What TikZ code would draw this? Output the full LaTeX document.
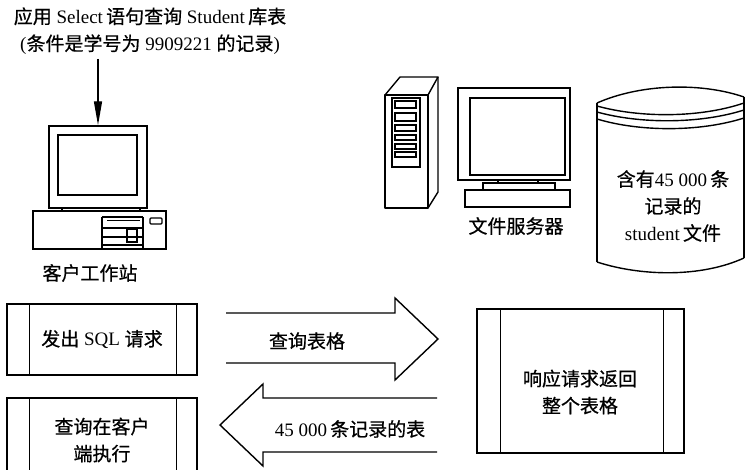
\documentclass[tikz,border=0pt]{standalone}
\usepackage{fontspec}
\setmainfont{Liberation Serif}
\newfontfamily\cjkfont{Noto Sans CJK SC}[FakeBold=0.6]
\newcommand\zhs[1]{{\cjkfont #1}}
\usetikzlibrary{arrows.meta}
\begin{document}
\begin{tikzpicture}[x=1pt,y=-1pt,
  every node/.style={font=\fontsize{19}{27}\selectfont, inner sep=0pt},
  outline/.style={draw=black, line width=1.4pt},
  thin outline/.style={draw=black, line width=1.1pt},
  procbox/.style={outline, minimum width=190pt},
  bigarrow/.style={outline, line join=miter}]
\useasboundingbox (0,0) rectangle (746,470);

% ---------- query text and arrow ----------
\node[align=center] (query) at (150,31)
  {\zhs{应用} Select\,\zhs{语句查询} Student\,\zhs{库表}\\(\zhs{条件是学号为} 9909221 \zhs{的记录})};

% ---------- client workstation ----------
\node[outline, minimum width=98pt, minimum height=82pt] (cmon) at (98,167) {};
\draw[outline] (58,135) rectangle (137,195);
\draw[thin outline] (62,208) -- (62,211) (140,208) -- (140,211);
\node[outline, minimum width=133pt, minimum height=38pt] (cbase) at (99.5,230) {};
\draw[thin outline] (102,217) -- (102,249) (143,217) -- (143,249) (102,217) -- (143,217);
\draw[thin outline] (107,220.5) -- (140,220.5) (102,228) -- (143,228)
  (102,237) -- (143,237) (102,245) -- (143,245);
\draw[thin outline] (127,229) rectangle (137,242);
\draw[thin outline, rounded corners=1pt] (150,218) rectangle (162,224);
\node (client) at (90,273) {\zhs{客户工作站}};

\draw[line width=1.4pt, -{Triangle[length=24pt,width=8pt]}]
  (query.south -| cmon.north) ++(0,4) -- (cmon.north);

% ---------- file server ----------
\draw[outline, line join=round] (385,95) rectangle (428,208);
\draw[outline, line join=round] (385,95) -- (400,77) -- (438,77) -- (428,95);
\draw[outline, line join=round] (438,77) -- (438,192) -- (428,208);
\draw[thin outline] (392,98) rectangle (420,167);
\foreach \ya/\yb in {101/108, 113/121, 125/131, 135/140, 144/149, 152/157}
  \draw[thin outline] (395,\ya) rectangle (416,\yb);
\node[outline, minimum width=112pt, minimum height=92pt] (smon) at (514,134) {};
\draw[outline] (470,98) rectangle (565,175);
\draw[thin outline] (498,180) -- (498,183) (538,180) -- (538,183);
\draw[outline] (483,183) rectangle (555,190);
\draw[outline] (465,190) rectangle (570,207);
\node (server) at (516,226) {\zhs{文件服务器}};

% ---------- data file (drum) ----------
\draw[outline] (597,103) .. controls (640,84) and (700,82) .. (744,97);
\draw[outline] (597,106) .. controls (640,118) and (700,118) .. (744,103);
\draw[outline] (597,112) .. controls (640,124) and (700,124) .. (744,110);
\draw[outline] (597,119) .. controls (640,132) and (700,132) .. (744,118);
\draw[outline] (597,103) -- (597,262);
\draw[outline] (744,97) -- (744,258);
\draw[outline] (597,262) .. controls (640,276) and (700,278) .. (744,258);
\node[align=center] (file) at (673,206)
  {\zhs{含有}45 000\,\zhs{条}\\\zhs{记录的}\\student\,\zhs{文件}};

% ---------- client steps ----------
\node[procbox, minimum height=71pt] (send) at (102,339.5) {\zhs{发出} SQL \zhs{请求}};
\node[procbox, minimum height=80pt] (local) at (102,438) {};
\node[align=center] (localtxt) at (102,440) {\zhs{查询在客户}\\\zhs{端执行}};
\foreach \b in {send, local} {
  \draw[outline] ([xshift=23pt]\b.north west) -- ([xshift=23pt]\b.south west);
  \draw[outline] ([xshift=-21pt]\b.north east) -- ([xshift=-21pt]\b.south east);
}

% ---------- server step ----------
\node[outline, minimum width=207pt, minimum height=144pt] (reply) at (580.5,381) {};
\node[align=center] (replytxt) at (580,392) {\zhs{响应请求返回}\\\zhs{整个表格}};
\draw[outline] ([xshift=24pt]reply.north west) -- ([xshift=24pt]reply.south west);
\draw[outline] ([xshift=-21pt]reply.north east) -- ([xshift=-21pt]reply.south east);

% ---------- request and response arrows ----------
\draw[bigarrow] (226,313) -- (395,313) -- (395,298) -- (438,339) -- (395,380) -- (395,363) -- (226,363);
\node (reqlbl) at (307,341) {\zhs{查询表格}};
\draw[bigarrow] (437,398) -- (263,398) -- (263,384) -- (220,425) -- (263,466) -- (263,452) -- (437,452);
\node (reslbl) at (350,429) {45 000\,\zhs{条记录的表}};
\end{tikzpicture}
\end{document}
